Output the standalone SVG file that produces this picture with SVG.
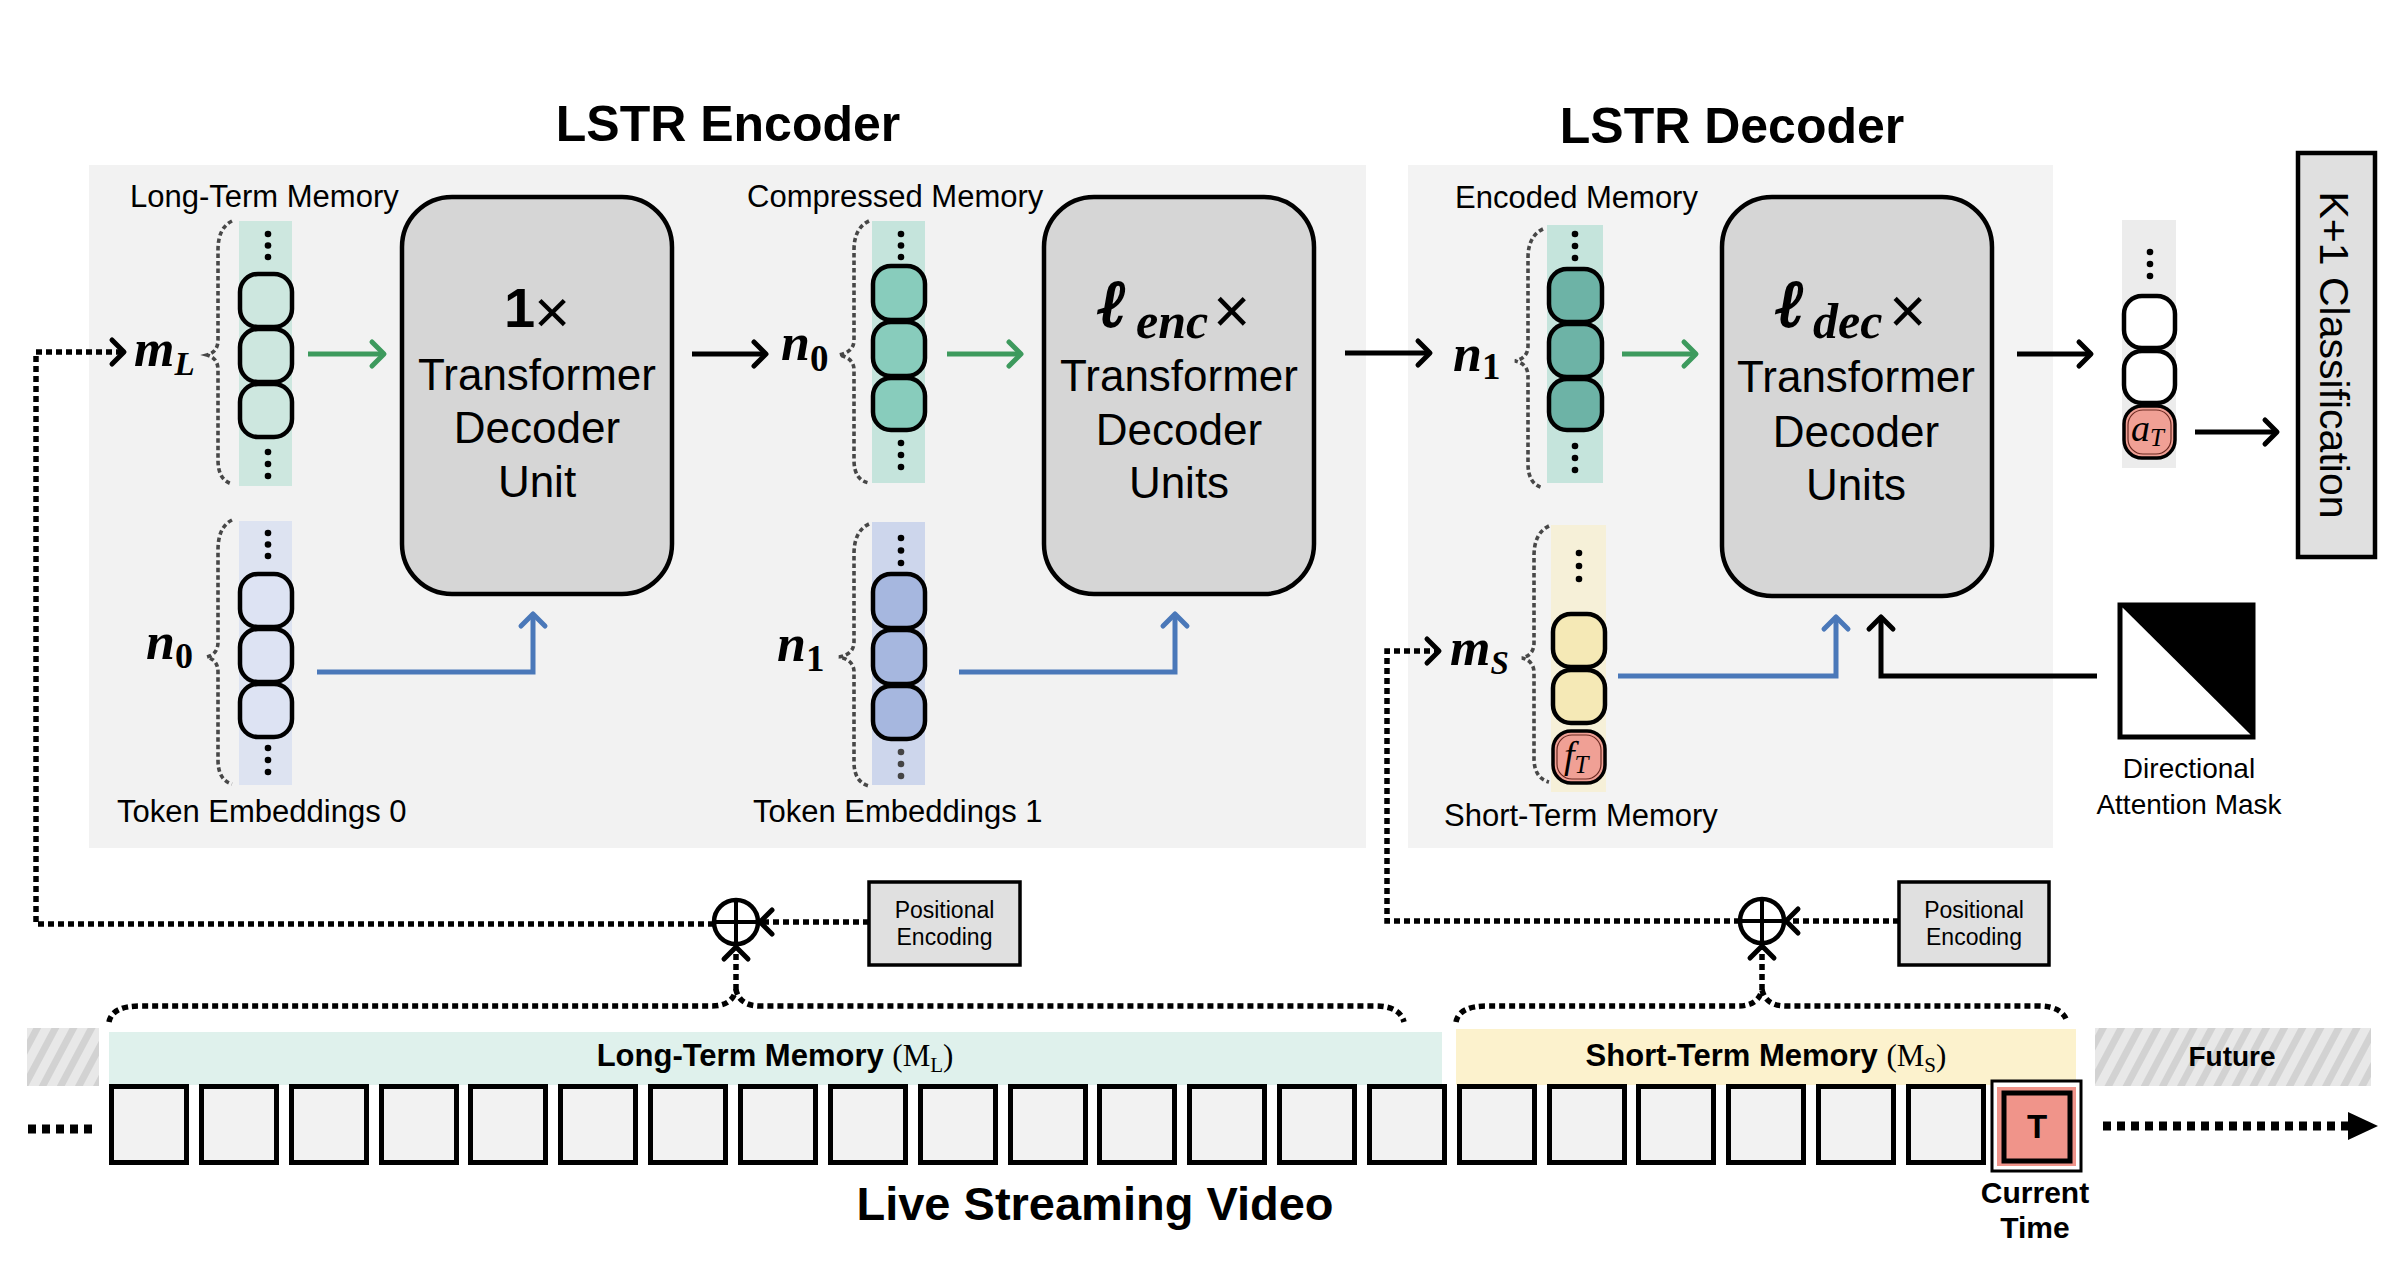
<svg xmlns="http://www.w3.org/2000/svg" width="2408" height="1266" viewBox="0 0 2408 1266">
<defs>
<style>
.sans{font-family:"Liberation Sans",Arial,sans-serif;fill:#000}
.lbl{font-size:31px}
.big{font-size:44px}
.title{font-size:50px;font-weight:bold}
.mth{font-family:"Liberation Serif","Times New Roman",serif;font-weight:bold;font-style:italic;fill:#000}
.ell{font-family:"DejaVu Serif",serif;font-weight:bold;font-style:italic;font-size:66px;fill:#000;stroke:#000;stroke-width:2.2}
.tok{stroke:#000;stroke-width:4.5}
.brace{fill:none;stroke:#474747;stroke-width:3.6;stroke-dasharray:4.5 3}
.tbox{fill:#d6d6d6;stroke:#000;stroke-width:4.5}
.dotl{fill:none;stroke:#000;stroke-width:5.5;stroke-dasharray:6 4}
.bk{fill:none;stroke:#000;stroke-width:5}
.gr{fill:none;stroke:#3d9a5d;stroke-width:5}
.bl{fill:none;stroke:#4a78b9;stroke-width:5}
.frame{fill:#f2f2f2;stroke:#000;stroke-width:5}
.pe{fill:#e0e0e0;stroke:#000;stroke-width:3.5}
.band{font-family:"Liberation Sans",Arial,sans-serif;font-weight:bold;fill:#000}
</style>
<marker id="mk" viewBox="-16 -16 20 32" refX="0" refY="0" markerWidth="20" markerHeight="32" orient="auto" markerUnits="userSpaceOnUse"><path d="M-12,-12 L0,0 L-12,12" fill="none" stroke="#000" stroke-width="5" stroke-linejoin="round" stroke-linecap="round"/></marker>
<marker id="mg" viewBox="-16 -16 20 32" refX="0" refY="0" markerWidth="20" markerHeight="32" orient="auto" markerUnits="userSpaceOnUse"><path d="M-12,-12 L0,0 L-12,12" fill="none" stroke="#3d9a5d" stroke-width="5" stroke-linejoin="round" stroke-linecap="round"/></marker>
<marker id="mb" viewBox="-16 -16 20 32" refX="0" refY="0" markerWidth="20" markerHeight="32" orient="auto" markerUnits="userSpaceOnUse"><path d="M-12,-12 L0,0 L-12,12" fill="none" stroke="#4a78b9" stroke-width="5" stroke-linejoin="round" stroke-linecap="round"/></marker>
<pattern id="hatch" patternUnits="userSpaceOnUse" width="16" height="16" patternTransform="rotate(28)"><rect width="16" height="16" fill="#e8e8e8"/><rect width="7" height="16" fill="#d2d2d2"/></pattern>
</defs>
<rect width="2408" height="1266" fill="#fff"/>

<g id="encoder-panel">
<rect x="89" y="165" width="1277" height="683" fill="#f2f2f2"/>
<text class="sans title" x="728" y="141" text-anchor="middle">LSTR Encoder</text>
</g>
<g id="decoder-panel">
<rect x="1408" y="165" width="645" height="683" fill="#f3f3f3"/>
<text class="sans title" x="1732" y="143" text-anchor="middle">LSTR Decoder</text>
</g>

<g id="long-term-memory">
<text class="sans lbl" x="130" y="207">Long-Term Memory</text>
<rect x="239" y="221" width="53" height="265" fill="#cde7df"/>
<circle cx="268" cy="234" r="3.3"/><circle cx="268" cy="245.5" r="3.3"/><circle cx="268" cy="257" r="3.3"/>
<rect class="tok" x="240" y="274" width="52" height="53" rx="18" fill="#cde7df"/>
<rect class="tok" x="240" y="329" width="52" height="53" rx="18" fill="#cde7df"/>
<rect class="tok" x="240" y="384" width="52" height="53" rx="18" fill="#cde7df"/>
<circle cx="268" cy="452" r="3.3"/><circle cx="268" cy="464" r="3.3"/><circle cx="268" cy="476" r="3.3"/>
<path class="brace" d="M232,221 Q218,228 218,250 L218,340 Q218,352 207,355 Q218,358 218,370 L218,460 Q218,480 232,484"/>
<text class="mth" x="134" y="366" font-size="52">m<tspan font-size="33" dy="9">L</tspan></text>
</g>

<g id="token-embeddings-0">
<rect x="239" y="521" width="53" height="264" fill="#dde3f1"/>
<circle cx="268" cy="533" r="3.3"/><circle cx="268" cy="544.5" r="3.3"/><circle cx="268" cy="556" r="3.3"/>
<rect class="tok" x="240" y="574" width="52" height="53" rx="18" fill="#dde3f3"/>
<rect class="tok" x="240" y="629" width="52" height="53" rx="18" fill="#dde3f3"/>
<rect class="tok" x="240" y="684" width="52" height="53" rx="18" fill="#dde3f3"/>
<circle cx="268" cy="748" r="3.3"/><circle cx="268" cy="760" r="3.3"/><circle cx="268" cy="772" r="3.3"/>
<path class="brace" d="M232,520 Q218,527 218,550 L218,642 Q218,654 207,657 Q218,660 218,672 L218,760 Q218,780 232,784"/>
<text class="mth" x="146" y="659" font-size="52">n<tspan font-size="36" dy="9" font-style="normal">0</tspan></text>
<text class="sans lbl" x="117" y="822">Token Embeddings 0</text>
</g>

<g id="transformer-1">
<rect class="tbox" x="402" y="197" width="270" height="397" rx="50"/>
<text class="sans" x="504" y="327" font-size="56" font-weight="bold">1</text>
<text class="sans" x="534" y="333" font-size="62">×</text>
<text class="sans big" x="537" y="390" text-anchor="middle">Transformer</text>
<text class="sans big" x="537" y="443" text-anchor="middle">Decoder</text>
<text class="sans big" x="537" y="497" text-anchor="middle">Unit</text>
</g>

<g id="compressed-memory">
<text class="sans lbl" x="747" y="207">Compressed Memory</text>
<rect x="872" y="221" width="53" height="262" fill="#c5e4dc"/>
<circle cx="901" cy="234" r="3.3"/><circle cx="901" cy="245.5" r="3.3"/><circle cx="901" cy="257" r="3.3"/>
<rect class="tok" x="873" y="266" width="52" height="54" rx="18" fill="#88ccbc"/>
<rect class="tok" x="873" y="322" width="52" height="54" rx="18" fill="#88ccbc"/>
<rect class="tok" x="873" y="378" width="52" height="52" rx="18" fill="#88ccbc"/>
<circle cx="901" cy="443" r="3.3"/><circle cx="901" cy="455" r="3.3"/><circle cx="901" cy="467" r="3.3"/>
<path class="brace" d="M869,221 Q854,228 854,250 L854,340 Q854,352 839,355 Q854,358 854,370 L854,460 Q854,480 869,483"/>
<text class="mth" x="781" y="360" font-size="52">n<tspan font-size="37" dy="11" font-style="normal">0</tspan></text>
</g>

<g id="token-embeddings-1">
<rect x="872" y="522" width="53" height="263" fill="#cdd6ec"/>
<circle cx="901" cy="538" r="3.3"/><circle cx="901" cy="550.5" r="3.3"/><circle cx="901" cy="563" r="3.3"/>
<rect class="tok" x="873" y="574" width="52" height="54" rx="18" fill="#a6b7df"/>
<rect class="tok" x="873" y="630" width="52" height="54" rx="18" fill="#a6b7df"/>
<rect class="tok" x="873" y="686" width="52" height="53" rx="18" fill="#a6b7df"/>
<circle cx="901" cy="752" r="3.3" fill="#444"/><circle cx="901" cy="764" r="3.3" fill="#444"/><circle cx="901" cy="776" r="3.3" fill="#444"/>
<path class="brace" d="M869,524 Q854,531 854,554 L854,642 Q854,654 839,657 Q854,660 854,672 L854,762 Q854,782 869,786"/>
<text class="mth" x="777" y="661" font-size="52">n<tspan font-size="37" dy="10" font-style="normal">1</tspan></text>
<text class="sans lbl" x="753" y="822">Token Embeddings 1</text>
</g>

<g id="transformer-enc">
<rect class="tbox" x="1044" y="197" width="270" height="397" rx="50"/>
<text class="ell" x="1098" y="326">ℓ</text>
<text class="mth" x="1136" y="338" font-size="50">enc</text>
<text class="sans" x="1213" y="333" font-size="64">×</text>
<text class="sans big" x="1179" y="391" text-anchor="middle">Transformer</text>
<text class="sans big" x="1179" y="445" text-anchor="middle">Decoder</text>
<text class="sans big" x="1179" y="498" text-anchor="middle">Units</text>
</g>

<g id="encoded-memory">
<text class="sans lbl" x="1455" y="208">Encoded Memory</text>
<rect x="1547" y="225" width="56" height="258" fill="#c5e4dc"/>
<circle cx="1575" cy="234" r="3.3"/><circle cx="1575" cy="246" r="3.3"/><circle cx="1575" cy="258" r="3.3"/>
<rect class="tok" x="1549" y="269" width="53" height="53" rx="18" fill="#6db3a6"/>
<rect class="tok" x="1549" y="324" width="53" height="53" rx="18" fill="#6db3a6"/>
<rect class="tok" x="1549" y="379" width="53" height="51" rx="18" fill="#6db3a6"/>
<circle cx="1575" cy="446" r="3.3"/><circle cx="1575" cy="458" r="3.3"/><circle cx="1575" cy="470" r="3.3"/>
<path class="brace" d="M1543,229 Q1528,236 1528,258 L1528,346 Q1528,358 1515,361 Q1528,364 1528,376 L1528,464 Q1528,484 1543,488"/>
<text class="mth" x="1453" y="371" font-size="52">n<tspan font-size="37" dy="8" font-style="normal">1</tspan></text>
</g>

<g id="short-term-memory">
<rect x="1551" y="525" width="55" height="267" fill="#f6f0d8"/>
<circle cx="1579" cy="553" r="3.3"/><circle cx="1579" cy="566" r="3.3"/><circle cx="1579" cy="579" r="3.3"/>
<rect class="tok" x="1553" y="614" width="52" height="53" rx="18" fill="#f5e9b6"/>
<rect class="tok" x="1553" y="670" width="52" height="53" rx="18" fill="#f5e9b6"/>
<rect x="1553" y="731" width="52" height="52" rx="18" fill="#f0a095" stroke="#000" stroke-width="3.5"/>
<rect x="1557" y="735" width="44" height="44" rx="15" fill="none" stroke="#6b2a22" stroke-width="1.2"/>
<text x="1564" y="768" font-family="'Liberation Serif',serif" font-style="italic" font-size="38">f<tspan font-size="25" dy="5">T</tspan></text>
<path class="brace" d="M1549,526 Q1534,533 1534,556 L1534,643 Q1534,655 1522,658 Q1534,661 1534,673 L1534,758 Q1534,778 1549,782"/>
<text class="mth" x="1450" y="665" font-size="52">m<tspan font-size="33" dy="9">S</tspan></text>
<text class="sans lbl" x="1444" y="826">Short-Term Memory</text>
</g>

<g id="transformer-dec">
<rect class="tbox" x="1722" y="197" width="270" height="399" rx="50"/>
<text class="ell" x="1776" y="326">ℓ</text>
<text class="mth" x="1813" y="338" font-size="50">dec</text>
<text class="sans" x="1889" y="333" font-size="64">×</text>
<text class="sans big" x="1856" y="392" text-anchor="middle">Transformer</text>
<text class="sans big" x="1856" y="447" text-anchor="middle">Decoder</text>
<text class="sans big" x="1856" y="500" text-anchor="middle">Units</text>
</g>

<g id="output-tokens">
<rect x="2122" y="220" width="54" height="248" fill="#ececec"/>
<circle cx="2150" cy="252" r="3.3"/><circle cx="2150" cy="264" r="3.3"/><circle cx="2150" cy="276" r="3.3"/>
<rect class="tok" x="2124" y="296" width="51" height="52" rx="18" fill="#fff"/>
<rect class="tok" x="2124" y="351" width="51" height="52" rx="18" fill="#fff"/>
<rect x="2124" y="406" width="51" height="52" rx="18" fill="#f0a095" stroke="#000" stroke-width="3.5"/>
<rect x="2128" y="410" width="43" height="44" rx="15" fill="none" stroke="#6b2a22" stroke-width="1.2"/>
<text x="2131" y="441" font-family="'Liberation Serif',serif" font-style="italic" font-size="38">a<tspan font-size="25" dy="5">T</tspan></text>
</g>

<g id="classification">
<rect x="2298" y="153" width="77" height="404" fill="#e0e0e0" stroke="#000" stroke-width="4.5"/>
<text class="sans" transform="translate(2320,355) rotate(90)" text-anchor="middle" font-size="41">K+1 Classification</text>
</g>

<g id="attention-mask">
<rect x="2120" y="605" width="133" height="132" fill="#fff" stroke="#000" stroke-width="5"/>
<polygon points="2120,605 2253,605 2253,737" fill="#000"/>
<text class="sans" x="2189" y="778" text-anchor="middle" font-size="28">Directional</text>
<text class="sans" x="2189" y="814" text-anchor="middle" font-size="28">Attention Mask</text>
</g>

<g id="positional-encoding-1">
<rect class="pe" x="869" y="882" width="151" height="83"/>
<text class="sans" x="944.5" y="918" text-anchor="middle" font-size="23">Positional</text>
<text class="sans" x="944.5" y="945" text-anchor="middle" font-size="23">Encoding</text>
</g>
<g id="positional-encoding-2">
<rect class="pe" x="1899" y="882" width="150" height="83"/>
<text class="sans" x="1974" y="918" text-anchor="middle" font-size="23">Positional</text>
<text class="sans" x="1974" y="945" text-anchor="middle" font-size="23">Encoding</text>
</g>

<g id="add-1">
<circle cx="736" cy="922" r="22" fill="none" stroke="#000" stroke-width="4.5"/>
<path d="M714,922 H758 M736,900 V944" stroke="#000" stroke-width="4"/>
</g>
<g id="add-2">
<circle cx="1762" cy="921" r="22" fill="none" stroke="#000" stroke-width="4.5"/>
<path d="M1740,921 H1784 M1762,899 V943" stroke="#000" stroke-width="4"/>
</g>

<g id="timeline">
<rect x="27" y="1028" width="72" height="58" fill="url(#hatch)"/>
<rect x="109" y="1032" width="1333" height="53" fill="#dff1ec"/>
<text class="band" x="775" y="1066" text-anchor="middle" style="font-size:31px">Long-Term Memory <tspan font-family="'Liberation Serif',serif" font-weight="normal">(M<tspan style="font-size:21px" dy="6">L</tspan><tspan dy="-6">)</tspan></tspan></text>
<rect x="1456" y="1029" width="620" height="56" fill="#fcf2cd"/>
<text class="band" x="1766" y="1066" text-anchor="middle" style="font-size:31px">Short-Term Memory <tspan font-family="'Liberation Serif',serif" font-weight="normal">(M<tspan style="font-size:21px" dy="6">S</tspan><tspan dy="-6">)</tspan></tspan></text>
<rect x="2095" y="1028" width="276" height="58" fill="url(#hatch)"/>
<text class="band" x="2232" y="1066" text-anchor="middle" style="font-size:28px">Future</text>
<g id="frames">
<rect class="frame" x="111.5" y="1086.5" width="75" height="76"/>
<rect class="frame" x="201.5" y="1086.5" width="75" height="76"/>
<rect class="frame" x="291.5" y="1086.5" width="75" height="76"/>
<rect class="frame" x="381.5" y="1086.5" width="75" height="76"/>
<rect class="frame" x="470.5" y="1086.5" width="75" height="76"/>
<rect class="frame" x="560.5" y="1086.5" width="75" height="76"/>
<rect class="frame" x="650.5" y="1086.5" width="75" height="76"/>
<rect class="frame" x="740.5" y="1086.5" width="75" height="76"/>
<rect class="frame" x="830.5" y="1086.5" width="75" height="76"/>
<rect class="frame" x="920.5" y="1086.5" width="75" height="76"/>
<rect class="frame" x="1010.5" y="1086.5" width="75" height="76"/>
<rect class="frame" x="1099.5" y="1086.5" width="75" height="76"/>
<rect class="frame" x="1189.5" y="1086.5" width="75" height="76"/>
<rect class="frame" x="1279.5" y="1086.5" width="75" height="76"/>
<rect class="frame" x="1369.5" y="1086.5" width="75" height="76"/>
<rect class="frame" x="1459.5" y="1086.5" width="75" height="76"/>
<rect class="frame" x="1549.5" y="1086.5" width="75" height="76"/>
<rect class="frame" x="1638.5" y="1086.5" width="75" height="76"/>
<rect class="frame" x="1728.5" y="1086.5" width="75" height="76"/>
<rect class="frame" x="1818.5" y="1086.5" width="75" height="76"/>
<rect class="frame" x="1908.5" y="1086.5" width="75" height="76"/>
</g>
<g id="current-frame">
<rect x="1992" y="1081" width="89" height="90" fill="#fff" stroke="#000" stroke-width="3"/>
<rect x="1997" y="1087" width="79" height="79" fill="#f0948a"/>
<rect x="2004" y="1093" width="66" height="68" fill="#f0948a" stroke="#000" stroke-width="5"/>
<text class="band" x="2037" y="1138" text-anchor="middle" style="font-size:33px">T</text>
<text class="band" x="2035" y="1203" text-anchor="middle" style="font-size:30px">Current</text>
<text class="band" x="2035" y="1238" text-anchor="middle" style="font-size:30px">Time</text>
</g>
<path d="M28,1129 H98" stroke="#000" stroke-width="9" stroke-dasharray="8 6" fill="none"/>
<path d="M2103,1126 H2350" stroke="#000" stroke-width="9" stroke-dasharray="8 6" fill="none"/>
<polygon points="2348,1112 2378,1126 2348,1140" fill="#000"/>
<text class="band" x="1095" y="1220" text-anchor="middle" style="font-size:47px">Live Streaming Video</text>
</g>

<g id="connectors">
<path class="gr" d="M308,354 H384" marker-end="url(#mg)"/>
<path class="gr" d="M947,354 H1021" marker-end="url(#mg)"/>
<path class="gr" d="M1622,354 H1696" marker-end="url(#mg)"/>
<path class="bk" d="M692,354 H766" marker-end="url(#mk)"/>
<path class="bk" d="M1345,353 H1430" marker-end="url(#mk)"/>
<path class="bk" d="M2017,354 H2091" marker-end="url(#mk)"/>
<path class="bk" d="M2195,432 H2277" marker-end="url(#mk)"/>
<path class="bl" d="M317,672 H533 V614" marker-end="url(#mb)"/>
<path class="bl" d="M959,672 H1175 V614" marker-end="url(#mb)"/>
<path class="bl" d="M1618,676 H1836 V617" marker-end="url(#mb)"/>
<path class="bk" d="M2097,676 H1881 V617" marker-end="url(#mk)"/>
<path class="dotl" d="M714,924 H36 V352 H124" marker-end="url(#mk)"/>
<path class="dotl" d="M869,922 H760" marker-end="url(#mk)"/>
<path class="dotl" d="M736,990 V947" marker-end="url(#mk)"/>
<path class="dotl" d="M1740,921 H1387 V651 H1439" marker-end="url(#mk)"/>
<path class="dotl" d="M1899,921 H1786" marker-end="url(#mk)"/>
<path class="dotl" d="M1762,990 V946" marker-end="url(#mk)"/>
<path class="dotl" stroke-width="5" d="M109,1022 Q112,1006 140,1006 L712,1006 Q732,1006 736,990 Q740,1006 760,1006 L1375,1006 Q1400,1006 1404,1022"/>
<path class="dotl" stroke-width="5" d="M1456,1022 Q1459,1006 1487,1006 L1738,1006 Q1758,1006 1762,990 Q1766,1006 1786,1006 L2038,1006 Q2063,1006 2067,1022"/>
</g>
</svg>
